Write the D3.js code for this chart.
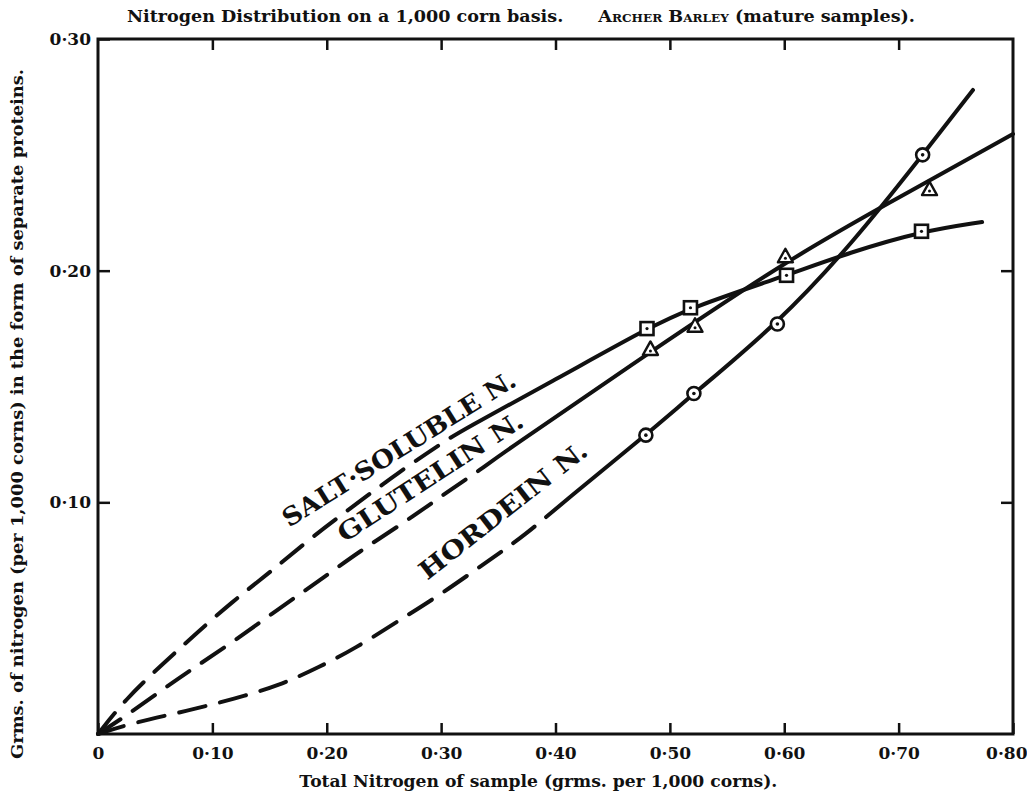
<!DOCTYPE html>
<html>
<head>
<meta charset="utf-8">
<script src="https://cdn.jsdelivr.net/npm/d3@7"></script>
<style>
  body { margin: 0; background: #fff; }
  svg { display: block; }
  text { font-family: "DejaVu Serif", "Liberation Serif", serif; fill: #111; }
  .axis text { font-size: 17px; font-weight: bold; }
</style>
</head>
<body>
<svg id="chart"></svg>
<script>
// ---- data (grms N per 1,000 corns) ----
const xTickValues = [0, 0.1, 0.2, 0.3, 0.4, 0.5, 0.6, 0.7, 0.8];
const xTickLabels = ["0", "0·10", "0·20", "0·30", "0·40", "0·50", "0·60", "0·70", "0·80"];
const yTickValues = [0.1, 0.2, 0.3];
const yTickLabels = ["0·10", "0·20", "0·30"];

// observed samples
const saltX = [0.480, 0.518, 0.602, 0.720];
const saltY = [0.175, 0.184, 0.198, 0.217];
const glutX = [0.483, 0.522, 0.601, 0.727];
const glutY = [0.166, 0.176, 0.206, 0.235];
const hordX = [0.479, 0.521, 0.594, 0.721];
const hordY = [0.129, 0.147, 0.177, 0.250];

// drawn curves: dashed extrapolation from origin, then the solid part
const saltDashX = [0, 0.024, 0.056, 0.085, 0.117, 0.151, 0.187, 0.225, 0.263, 0.302];
const saltDashY = [0, 0.015, 0.030, 0.043, 0.057, 0.070, 0.085, 0.099, 0.113, 0.126];
const saltLineX = [0.318, 0.400, 0.480, 0.518, 0.602, 0.658, 0.720, 0.773];
const saltLineY = [0.131, 0.153, 0.175, 0.184, 0.198, 0.208, 0.217, 0.221];

const glutDashX = [0, 0.022, 0.053, 0.082, 0.116, 0.155, 0.193, 0.229, 0.270, 0.304, 0.337];
const glutDashY = [0, 0.007, 0.018, 0.028, 0.039, 0.053, 0.066, 0.079, 0.092, 0.104, 0.115];
const glutLineX = [0.350, 0.483, 0.601, 0.687, 0.800];
const glutLineY = [0.120, 0.165, 0.204, 0.228, 0.259];

const hordDashX = [0, 0.032, 0.078, 0.118, 0.159, 0.194, 0.225, 0.260, 0.299, 0.339, 0.374];
const hordDashY = [0, 0.005, 0.010, 0.015, 0.021, 0.029, 0.037, 0.048, 0.060, 0.074, 0.086];
const hordLineX = [0.409, 0.479, 0.521, 0.594, 0.660, 0.721, 0.765];
const hordLineY = [0.101, 0.129, 0.147, 0.177, 0.212, 0.250, 0.278];

const seriesNames = ["SALT·SOLUBLE N.", "GLUTELIN N.", "HORDEIN N."];

const W = 1027, H = 796;
const margin = { top: 39, right: 14, bottom: 62, left: 98 };
const width = W - margin.left - margin.right;
const height = H - margin.top - margin.bottom;

const svg = d3.select('#chart')
    .attr('width', W)
    .attr('height', H)
    .attr('viewBox', `0 0 ${W} ${H}`);

const chart = svg.append('g')
  .attr('transform', `translate(${margin.left}, ${margin.top})`);

const xScale = d3.scaleLinear().domain([0, 0.8]).range([0, width]);
const yScale = d3.scaleLinear().domain([0, 0.3]).range([height, 0]);

// axes: ticks pointing inwards
const bottomAxis = chart.append('g')
  .attr('class', 'axis')
  .attr('transform', `translate(0, ${height})`)
  .call(d3.axisBottom(xScale)
    .tickValues(xTickValues)
    .tickSize(-11)
    .tickPadding(13)
    .tickFormat((d, i) => xTickLabels[i]));

bottomAxis.selectAll('.tick:last-of-type text')
  .attr('text-anchor', 'end')
  .attr('x', 14);

chart.append('g')
  .attr('class', 'axis')
  .call(d3.axisLeft(yScale)
    .tickValues(yTickValues)
    .tickSize(-12)
    .tickPadding(7)
    .tickFormat((d, i) => yTickLabels[i]));

chart.append('g')
  .attr('class', 'axis')
  .call(d3.axisTop(xScale)
    .tickValues(xTickValues.slice(1, -1))
    .tickSize(-11)
    .tickFormat(''));

chart.append('g')
  .attr('class', 'axis')
  .attr('transform', `translate(${width}, 0)`)
  .call(d3.axisRight(yScale)
    .tickValues(yTickValues.slice(0, 2))
    .tickSize(-12)
    .tickFormat(''));

chart.selectAll('.axis .domain').remove();
chart.selectAll('.axis line').attr('stroke', '#111').attr('stroke-width', 2.5);

chart.append('rect')
  .attr('width', width)
  .attr('height', height)
  .attr('fill', 'none')
  .attr('stroke', '#111')
  .attr('stroke-width', 3);

// curves: one smooth path each, dashed up to where the solid part begins
const line = d3.line()
  .x(d => xScale(d[0]))
  .y(d => yScale(d[1]))
  .curve(d3.curveBasis);

const zip = (a, b) => a.map((v, i) => [v, b[i]]);

const curves = [
  [saltDashX, saltDashY, saltLineX, saltLineY],
  [glutDashX, glutDashY, glutLineX, glutLineY],
  [hordDashX, hordDashY, hordLineX, hordLineY]
];

curves.forEach(c => {
  const pts = zip(c[0], c[1]).concat(zip(c[2], c[3]));
  const path = chart.append('path')
    .attr('d', line(pts))
    .attr('fill', 'none')
    .attr('stroke', '#111')
    .attr('stroke-width', 4)
    .attr('stroke-linecap', 'round');

  const node = path.node();
  const total = node.getTotalLength();
  const xJoin = xScale(c[2][0]);
  let lo = 0, hi = total;
  for (let k = 0; k < 40; k++) {
    const mid = (lo + hi) / 2;
    if (node.getPointAtLength(mid).x < xJoin) lo = mid; else hi = mid;
  }
  const dash = 27, gap = 15;
  const n = Math.floor(lo / (dash + gap));
  const pattern = [];
  for (let k = 0; k < n; k++) pattern.push(dash, gap);
  pattern.push(total + 10, 0);
  path.attr('stroke-dasharray', pattern.join(','));
});

// markers
const marks = chart.append('g');

zip(saltX, saltY).forEach(d => {
  const g = marks.append('g').attr('transform', `translate(${xScale(d[0])}, ${yScale(d[1])})`);
  g.append('rect').attr('x', -6.5).attr('y', -6.5).attr('width', 13).attr('height', 13)
    .attr('fill', '#fff').attr('stroke', '#111').attr('stroke-width', 2.6);
  g.append('circle').attr('r', 1.6).attr('fill', '#111');
});

zip(glutX, glutY).forEach(d => {
  const g = marks.append('g').attr('transform', `translate(${xScale(d[0])}, ${yScale(d[1])})`);
  g.append('path').attr('d', 'M0,-8 L7.5,5.5 L-7.5,5.5 Z')
    .attr('fill', '#fff').attr('stroke', '#111').attr('stroke-width', 2.4)
    .attr('stroke-linejoin', 'round');
  g.append('circle').attr('cy', 1.5).attr('r', 1.5).attr('fill', '#111');
});

zip(hordX, hordY).forEach(d => {
  const g = marks.append('g').attr('transform', `translate(${xScale(d[0])}, ${yScale(d[1])})`);
  g.append('circle').attr('r', 6.5)
    .attr('fill', '#fff').attr('stroke', '#111').attr('stroke-width', 2.6);
  g.append('circle').attr('r', 1.8).attr('fill', '#111');
});

// curve names written along the lines
const nameSpots = [
  { x: 0.167, y: 0.089, angle: -32, len: 270 },
  { x: 0.2155, y: 0.0825, angle: -33, len: 216 },
  { x: 0.2878, y: 0.0662, angle: -38, len: 206 }
];

nameSpots.forEach((p, i) => {
  chart.append('text')
    .attr('transform', `translate(${xScale(p.x)}, ${yScale(p.y)}) rotate(${p.angle})`)
    .attr('font-size', 25)
    .attr('font-weight', 'bold')
    .attr('textLength', p.len)
    .attr('lengthAdjust', 'spacingAndGlyphs')
    .text(seriesNames[i]);
});

// titles
const title = svg.append('text')
  .attr('x', 127)
  .attr('y', 22)
  .attr('font-size', 16)
  .attr('font-weight', 'bold')
  .attr('textLength', 788)
  .attr('lengthAdjust', 'spacingAndGlyphs');
title.append('tspan').text('Nitrogen Distribution on a 1,000 corn basis.\u2003\u2003');
title.append('tspan').attr('font-variant', 'small-caps').text('Archer Barley');
title.append('tspan').text(' (mature samples).');

svg.append('text')
  .attr('x', margin.left + xScale(0.385))
  .attr('y', 787)
  .attr('text-anchor', 'middle')
  .attr('font-size', 16)
  .attr('font-weight', 'bold')
  .attr('textLength', 478)
  .attr('lengthAdjust', 'spacingAndGlyphs')
  .text('Total Nitrogen of sample (grms. per 1,000 corns).');

svg.append('text')
  .attr('transform', `translate(23, 414) rotate(-90)`)
  .attr('text-anchor', 'middle')
  .attr('font-size', 16)
  .attr('font-weight', 'bold')
  .attr('textLength', 690)
  .attr('lengthAdjust', 'spacingAndGlyphs')
  .text('Grms. of nitrogen (per 1,000 corns) in the form of separate proteins.');
</script>
</body>
</html>
